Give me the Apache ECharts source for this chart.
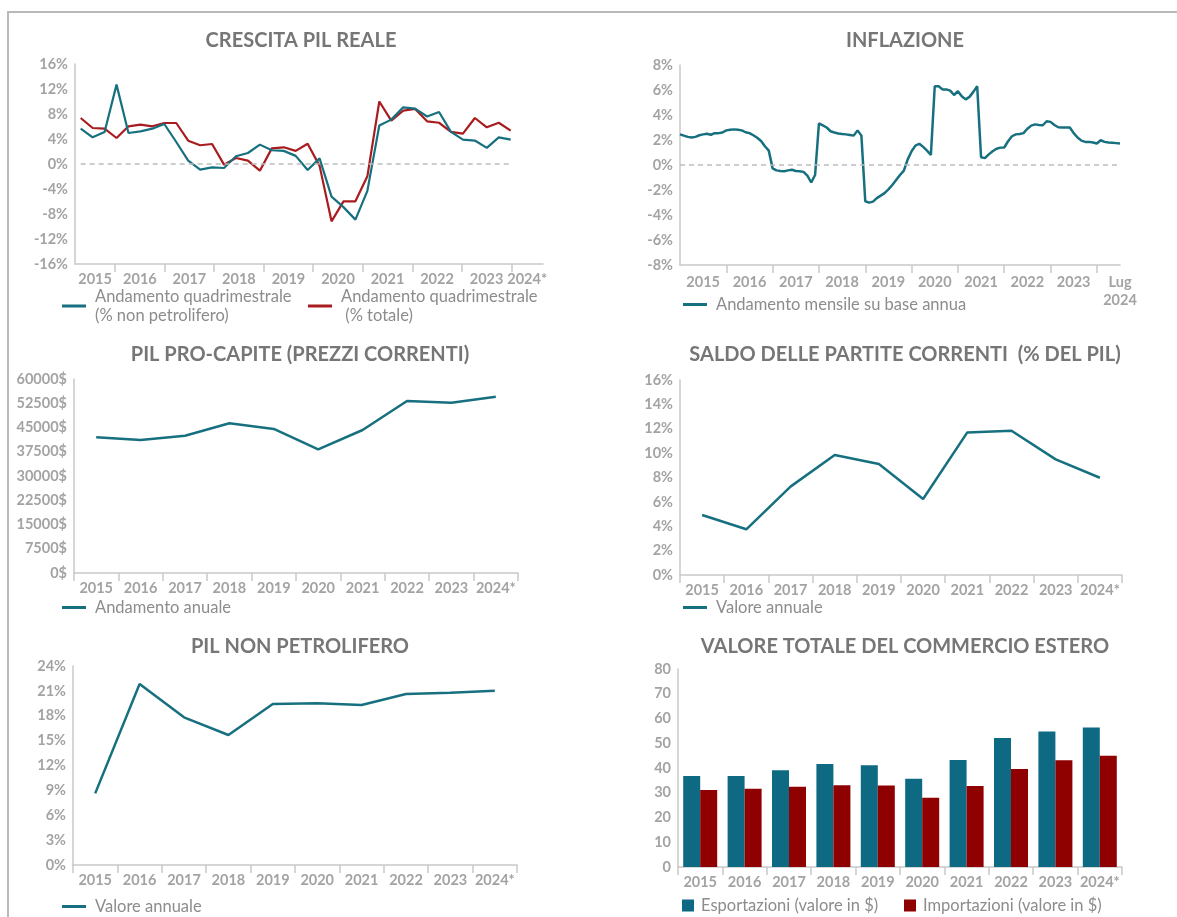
<!DOCTYPE html>
<html>
<head>
<meta charset="utf-8">
<script src="https://cdn.jsdelivr.net/npm/echarts@6/dist/echarts.min.js"></script>
<style>
html, body { margin: 0; padding: 0; background: #fff; }
#main { width: 1177px; height: 917px; }
#frame { position: absolute; left: 7px; top: 11px; right: 0; bottom: 0; border-left: 2px solid #b9b9b9; border-top: 2px solid #b9b9b9; pointer-events: none; }
</style>
</head>
<body>
<div id="main"></div>
<div id="frame"></div>
<script>
// ---- dati ----
var anni = ['2015', '2016', '2017', '2018', '2019', '2020', '2021', '2022', '2023', '2024*'];
var anniInflazione = ['2015', '2016', '2017', '2018', '2019', '2020', '2021', '2022', '2023', 'Lug\n2024'];

// crescita PIL reale, trimestrale 2015 T1 - 2024 T1
var pilNonPetrolifero = [5.65, 4.27, 5.12, 12.7, 4.96, 5.23, 5.65, 6.4, 3.52, 0.53, -0.9, -0.53, -0.64, 1.23, 1.76, 3.1,
    2.2, 2.1, 1.3, -0.95, 0.9, -5.23, -6.9, -8.9, -4.3, 6.15, 7.1, 9.07, 8.85, 7.6, 8.32, 5.15, 3.89, 3.75, 2.58, 4.27, 3.89];
var pilTotale = [7.36, 5.76, 5.65, 4.16, 6.03, 6.29, 6.03, 6.56, 6.56, 3.73, 3.0, 3.2, -0.1, 0.96, 0.53, -1.07,
    2.5, 2.67, 2.1, 3.25, -0.3, -9.17, -5.97, -5.97, -1.97, 10.0, 6.95, 8.55, 8.8, 6.83, 6.6, 5.15, 4.85, 7.36, 5.87, 6.6, 5.33];
var trimestri = [];
for (var y = 2015; y <= 2024; y++) {
    for (var q = 1; q <= 4; q++) {
        if (trimestri.length < pilTotale.length) trimestri.push(y + ' T' + q);
    }
}

// inflazione mensile su base annua, gen 2015 - lug 2024
var inflazione = [
    2.45, 2.35, 2.25, 2.2, 2.25, 2.38, 2.45, 2.5, 2.42, 2.55, 2.55, 2.6,        // 2015
    2.77, 2.82, 2.85, 2.82, 2.77, 2.62, 2.55, 2.38, 2.18, 1.92, 1.5, 1.15,      // 2016
    -0.27, -0.43, -0.48, -0.5, -0.43, -0.38, -0.48, -0.5, -0.55, -0.85, -1.4, -0.8, // 2017
    3.33, 3.17, 3.0, 2.7, 2.6, 2.52, 2.48, 2.45, 2.4, 2.35, 2.77, 2.35,         // 2018
    -2.9, -3.01, -2.93, -2.65, -2.45, -2.25, -1.95, -1.6, -1.2, -0.8, -0.45, 0.45, // 2019
    1.1, 1.55, 1.7, 1.45, 1.15, 0.8, 6.3, 6.3, 6.05, 6.05, 5.95, 5.6,          // 2020
    5.9, 5.5, 5.25, 5.45, 5.85, 6.3, 0.62, 0.55, 0.85, 1.1, 1.3, 1.39,         // 2021
    1.4, 1.9, 2.3, 2.45, 2.48, 2.55, 2.9, 3.15, 3.25, 3.2, 3.18, 3.5,          // 2022
    3.45, 3.2, 3.02, 3.0, 3.0, 3.0, 2.55, 2.2, 1.95, 1.85, 1.85, 1.8,          // 2023
    1.72, 1.98, 1.85, 1.8, 1.78, 1.75, 1.72                                    // 2024
];
var mesi = [];
for (var i = 0; i < inflazione.length; i++) {
    mesi.push((2015 + Math.floor(i / 12)) + '-' + (i % 12 + 1));
}

var pilProCapite = [41970, 41140, 42470, 46300, 44540, 38250, 44230, 53200, 52680, 54540];
var saldoPartite = [4.92, 3.75, 7.25, 9.85, 9.1, 6.24, 11.7, 11.84, 9.49, 7.98];
var pilNonPetrol = [8.64, 21.83, 17.81, 15.68, 19.42, 19.5, 19.3, 20.62, 20.78, 21.02];
var esportazioni = [36.8, 36.8, 39.1, 41.6, 41.1, 35.7, 43.2, 52.1, 54.7, 56.4];
var importazioni = [31.1, 31.6, 32.4, 33.0, 32.9, 28.0, 32.7, 39.6, 43.1, 45.0];

// ---- stile ----
var teal = '#17707f';
var tealBar = '#0d6a82';
var red = '#a81c1f';
var redBar = '#8f0000';
var asse = '#c9c9c9';
var font = 'Lato, "Open Sans", sans-serif';

function titolo(testo, x, y) {
    return {
        text: testo, left: x, top: y, textAlign: 'center', padding: 0,
        textStyle: { fontFamily: font, fontSize: 20, fontWeight: 'bold', color: '#767676' }
    };
}
function etichetta() {
    return { color: '#a3a3a3', fontFamily: font, fontSize: 14.5, fontWeight: 'bold' };
}
function assey(idx, min, max, step, unita) {
    var lab = etichetta();
    lab.formatter = function (v) { return v + unita; };
    lab.margin = 7;
    return {
        gridIndex: idx, type: 'value', min: min, max: max, interval: step,
        axisLine: { show: true, onZero: false, lineStyle: { color: asse, width: 1.5 } },
        axisTick: { show: false }, splitLine: { show: false },
        axisLabel: lab
    };
}
function assexAnni(idx) {
    var lab = etichetta();
    lab.margin = 8;
    lab.interval = 0;
    return {
        gridIndex: idx, type: 'category', data: anni, boundaryGap: true,
        axisLine: { onZero: false, lineStyle: { color: asse, width: 1.5 } },
        axisTick: { show: true, length: 8, interval: 0, lineStyle: { color: asse, width: 1.5 } },
        axisLabel: lab
    };
}
function leggenda(nome, x, y, quadrato) {
    return {
        data: [nome], left: x, top: y, padding: 0, orient: 'horizontal',
        icon: 'rect', itemWidth: quadrato ? 12 : 24, itemHeight: quadrato ? 12 : 3,
        selectedMode: false,
        textStyle: { fontFamily: font, fontSize: 16.5, color: '#8c8c8c', lineHeight: 19, padding: [0, 0, 0, quadrato ? 2 : 4] }
    };
}

// asse del primo grafico: valori in anni, tacche e nomi degli anni posizionati a mano
var pilMin = 2015.19, pilMax = 2024.64;
var pilTacche = [], pilEtichette = [];
for (var a = 2016; a <= 2024; a++) pilTacche.push(a);
for (var b = 2015; b <= 2024; b++) {
    if (b === 2015) pilEtichette.push((pilMin + 2016) / 2);
    else if (b === 2024) pilEtichette.push((2024 + pilMax) / 2);
    else pilEtichette.push(b + 0.5);
}

var myChart = echarts.init(document.getElementById('main'));
var labPil = etichetta();
labPil.margin = 8;
labPil.customValues = pilEtichette;
labPil.formatter = function (v) { return anni[Math.floor(v) - 2015]; };

var labInfl = etichetta();
labInfl.margin = 8;
labInfl.lineHeight = 18;
labInfl.interval = function (i) { return i % 12 === 6; };
labInfl.formatter = function (v, i) { return anniInflazione[Math.floor(i / 12)]; };

myChart.setOption({
    animation: false,
    title: [
        titolo('CRESCITA PIL REALE', 301, 31),
        titolo('INFLAZIONE', 905, 31),
        titolo('PIL PRO-CAPITE (PREZZI CORRENTI)', 300, 345),
        titolo('SALDO DELLE PARTITE CORRENTI  (% DEL PIL)', 905, 345),
        titolo('PIL NON PETROLIFERO', 300, 637),
        titolo('VALORE TOTALE DEL COMMERCIO ESTERO', 905, 637)
    ],
    legend: [
        leggenda('Andamento quadrimestrale\n(% non petrolifero)', 62, 287),
        leggenda('Andamento quadrimestrale\n (% totale)', 308, 287),
        leggenda('Andamento mensile su base annua', 683, 295),
        leggenda('Andamento anuale', 62, 598),
        leggenda('Valore annuale', 683, 598),
        leggenda('Valore annuale ', 62, 897),
        leggenda('Esportazioni (valore in $)', 682, 896, true),
        leggenda('Importazioni (valore in $)', 904, 896, true)
    ],
    grid: [
        { left: 75, top: 64, width: 468, height: 200 },     // 0 cornice crescita PIL
        { left: 80.7, top: 64, width: 430, height: 200 },   // 1 dati crescita PIL
        { left: 680, top: 65, width: 440, height: 200 },    // 2 inflazione
        { left: 74, top: 379, width: 444, height: 194 },    // 3 pil pro-capite
        { left: 680, top: 380, width: 442, height: 195 },   // 4 saldo partite
        { left: 73, top: 666, width: 444, height: 199 },    // 5 pil non petrolifero
        { left: 678, top: 669, width: 444, height: 198 }    // 6 commercio estero
    ],
    xAxis: [
        {
            gridIndex: 0, type: 'value', min: pilMin, max: pilMax,
            axisLine: { show: true, onZero: false, lineStyle: { color: asse, width: 1.5 } },
            axisTick: { show: true, length: 8, customValues: pilTacche, lineStyle: { color: asse, width: 1.5 } },
            splitLine: { show: false },
            axisLabel: labPil
        },
        {
            gridIndex: 1, type: 'category', data: trimestri, boundaryGap: false,
            axisLine: { show: false }, axisTick: { show: false }, axisLabel: { show: false }
        },
        {
            gridIndex: 2, type: 'category', data: mesi, boundaryGap: false,
            axisLine: { onZero: false, lineStyle: { color: asse, width: 1.5 } },
            axisTick: { show: true, length: 8, interval: function (i) { return i > 0 && i % 12 === 0; }, lineStyle: { color: asse, width: 1.5 } },
            axisLabel: labInfl
        },
        assexAnni(3),
        assexAnni(4),
        assexAnni(5),
        assexAnni(6)
    ],
    yAxis: [
        assey(0, -16, 16, 4, '%'),
        { gridIndex: 1, type: 'value', min: -16, max: 16, show: false },
        assey(2, -8, 8, 2, '%'),
        assey(3, 0, 60000, 7500, '$'),
        assey(4, 0, 16, 2, '%'),
        assey(5, 0, 24, 3, '%'),
        assey(6, 0, 80, 10, '')
    ],
    series: [
        {
            name: 'Andamento quadrimestrale\n(% non petrolifero)', type: 'line',
            xAxisIndex: 1, yAxisIndex: 1, data: pilNonPetrolifero,
            symbol: 'none', lineStyle: { color: teal, width: 2.2 }, itemStyle: { color: teal },
            markLine: {
                silent: true, symbol: 'none', label: { show: false },
                lineStyle: { color: '#bdbdbd', type: [5, 4], width: 1.5 },
                data: [{ yAxis: 0 }]
            },
            z: 3
        },
        {
            name: 'Andamento quadrimestrale\n (% totale)', type: 'line',
            xAxisIndex: 1, yAxisIndex: 1, data: pilTotale,
            symbol: 'none', lineStyle: { color: red, width: 2.2 }, itemStyle: { color: red },
            z: 2
        },
        {
            name: 'Andamento mensile su base annua', type: 'line',
            xAxisIndex: 2, yAxisIndex: 2, data: inflazione,
            symbol: 'none', lineStyle: { color: teal, width: 2.5 }, itemStyle: { color: teal },
            markLine: {
                silent: true, symbol: 'none', label: { show: false },
                lineStyle: { color: '#bdbdbd', type: [5, 4], width: 1.5 },
                data: [{ yAxis: 0 }]
            },
            z: 3
        },
        {
            name: 'Andamento anuale', type: 'line',
            xAxisIndex: 3, yAxisIndex: 3, data: pilProCapite,
            symbol: 'none', lineStyle: { color: teal, width: 2.5 }, itemStyle: { color: teal }
        },
        {
            name: 'Valore annuale', type: 'line',
            xAxisIndex: 4, yAxisIndex: 4, data: saldoPartite,
            symbol: 'none', lineStyle: { color: teal, width: 2.5 }, itemStyle: { color: teal }
        },
        {
            name: 'Valore annuale ', type: 'line',
            xAxisIndex: 5, yAxisIndex: 5, data: pilNonPetrol,
            symbol: 'none', lineStyle: { color: teal, width: 2.5 }, itemStyle: { color: teal }
        },
        {
            name: 'Esportazioni (valore in $)', type: 'bar',
            xAxisIndex: 6, yAxisIndex: 6, data: esportazioni,
            barWidth: 17, barGap: '0%', itemStyle: { color: tealBar }
        },
        {
            name: 'Importazioni (valore in $)', type: 'bar',
            xAxisIndex: 6, yAxisIndex: 6, data: importazioni,
            barWidth: 17, barGap: '0%', itemStyle: { color: redBar }
        }
    ]
});
</script>
</body>
</html>
